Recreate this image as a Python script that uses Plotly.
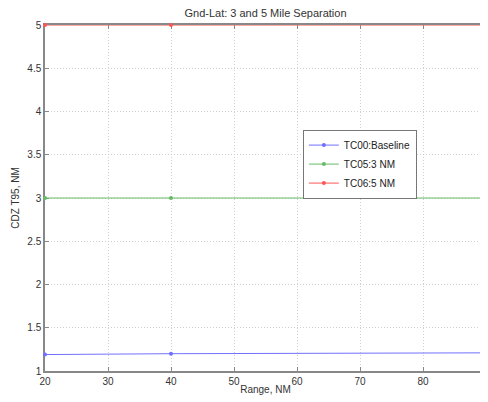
import plotly.graph_objects as go

range_nm = [20, 40, 90]
baseline = [1.19, 1.20, 1.21]
tc05 = [3.0, 3.0, 3.0]
tc06 = [5.0, 5.0, 5.0]
series_names = ["TC00:Baseline", "TC05:3 NM", "TC06:5 NM"]
series_colors = ["#7070ff", "#66bb66", "#ff5555"]

fig = go.Figure()
for name, vals, col in zip(series_names, [baseline, tc05, tc06], series_colors):
    fig.add_trace(go.Scatter(x=range_nm, y=vals, name=name, mode="lines+markers",
                             line=dict(color=col, width=1),
                             marker=dict(color=col, size=4, symbol="circle"),
                             cliponaxis=False))

font = "Liberation Sans, Arial, sans-serif"
axis_common = dict(showline=True, linecolor="#888", linewidth=1.5, mirror="ticks",
                   ticks="inside", ticklen=4, tickcolor="#888",
                   showgrid=True, gridcolor="#d0d0d0", griddash="1px,2px", gridwidth=1,
                   zeroline=False, automargin=False, layer="below traces",
                   ticklabeloverflow="allow",
                   tickfont=dict(size=10, color="#333", family=font))
fig.update_layout(
    width=480, height=394,
    margin=dict(l=37, r=2, t=17, b=31),
    paper_bgcolor="white", plot_bgcolor="white",
    title=dict(text="Gnd-Lat: 3 and 5 Mile Separation", xref="paper", x=0.5, xanchor="center",
               y=0.986, yanchor="middle", font=dict(size=11, color="#333", family=font)),
    xaxis=dict(range=[20, 90], tickvals=[20, 30, 40, 50, 60, 70, 80, 90],
               title=dict(text="Range, NM", font=dict(size=10, color="#333", family=font), standoff=0),
               **axis_common),
    yaxis=dict(range=[1, 5], tickvals=[1, 1.5, 2, 2.5, 3, 3.5, 4, 4.5, 5],
               ticktext=["1", "1.5", "2", "2.5", "3", "3.5", "4", "4.5", "5"],
               title=dict(text="CDZ T95, NM", font=dict(size=10, color="#333", family=font), standoff=6),
               **axis_common),
    legend=dict(x=0.714, y=0.598, xanchor="center", yanchor="middle",
                bgcolor="white", bordercolor="#777", borderwidth=1,
                font=dict(size=10, color="#222", family=font),
                tracegroupgap=0, itemwidth=30),
    showlegend=True,
)
fig.write_html("out.html")
